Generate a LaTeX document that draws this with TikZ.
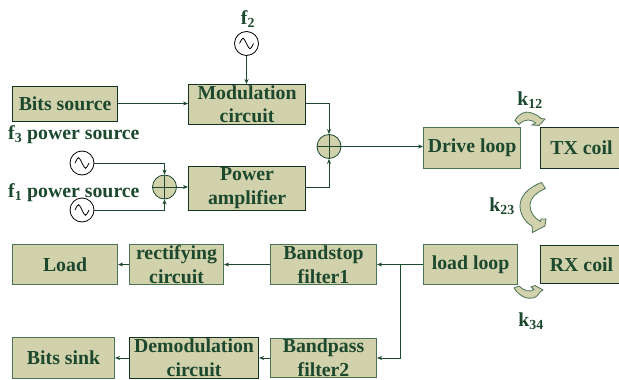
\documentclass[tikz,border=0pt]{standalone}
\usepackage{fontspec}
\setmainfont{Liberation Serif}
\usetikzlibrary{arrows.meta}
\definecolor{boxfill}{RGB}{209,209,171}
\definecolor{ink}{RGB}{28,72,46}
\definecolor{edge}{RGB}{75,115,85}
\tikzset{
  x=1pt,y=-1pt,
  blk/.style={draw=edge,line width=1.1pt,fill=boxfill,minimum width=0pt,minimum height=0pt,inner sep=0pt,text=ink,font=\fontsize{19.8}{24}\selectfont\bfseries,align=center,anchor=north west},
  darkblk/.style={blk,draw=ink!70!black},
  lab/.style={text=ink,font=\fontsize{19.8}{22}\selectfont\bfseries,inner sep=0pt},
  src/.style={circle,draw=black,fill=white,line width=.8pt,minimum size=24pt,inner sep=0pt},
  summer/.style={circle,draw=ink,fill=boxfill,line width=.8pt,minimum size=24pt,inner sep=0pt},
  conn/.style={draw=ink,line width=.8pt,-{Stealth[length=5pt,width=4pt]}},
  coupling/.style={draw=edge,line width=.8pt,fill=boxfill}
}
\newcommand{\boxat}[6][blk]{\node[#1,minimum width=#4pt,minimum height=#5pt] (#2) at (#3) {#6};}
\newcommand{\sine}[1]{\draw[line width=.8pt,black] ([xshift=-7pt]#1.center) .. controls +(3.5,-7) and +(-3.5,-7) .. (#1.center) .. controls +(3.5,7) and +(-3.5,7) .. ([xshift=7pt]#1.center);}
\newcommand{\cross}[1]{\draw[ink,line width=.8pt] (#1.north) -- (#1.south) (#1.west) -- (#1.east);}
\begin{document}
\begin{tikzpicture}
\useasboundingbox (0,0) rectangle (619,380);
\boxat[darkblk]{bits}{12,86}{105}{35}{Bits source}
\boxat[darkblk]{mod}{188,84}{117}{40}{Modulation\\[-1pt]circuit}
\boxat[darkblk]{amp}{188,166}{117}{44}{\raisebox{-2pt}{Power}\\\raisebox{-2pt}{amplifier}}
\boxat{drive}{423,126.5}{97}{41}{Drive loop}
\boxat[darkblk]{tx}{540,126.5}{82}{41}{TX coil}
\boxat{loadl}{423,244}{94}{40}{load loop}
\boxat[darkblk]{rx}{540,245}{82}{38}{RX coil}
\boxat{stop}{270,244}{106}{40}{Bandstop\\filter1}
\boxat{rect}{129,244}{94}{40}{rectifying\\circuit}
\boxat{load}{12,244}{105}{40}{Load}
\boxat{pass}{270,338}{106}{39}{Bandpass\\filter2}
\boxat[darkblk]{demod}{129,337}{129}{41}{Demodulation\\circuit}
\boxat{sink}{12,337}{102}{41}{Bits sink}
\node[src] (f2s) at (246.5,43.5) {};
\node[src] (s3) at (82,163) {};
\node[src] (s1) at (82,210) {};
\node[summer] (sum1) at (164.5,187) {};
\node[summer] (sum2) at (329,146.5) {};
\sine{f2s}\sine{s3}\sine{s1}
\cross{sum1}\cross{sum2}
\coordinate (j1) at (400,264.5);
\draw[conn] (f2s) -- (f2s |- mod.north);
\draw[conn] (bits.east |- 0,103.5) -- (mod.west |- 0,103.5);
\draw[conn] (s3.east) -| (sum1.north);
\draw[conn] (s1.east) -| (sum1.south);
\draw[conn] (sum1.east) -- (sum1.east -| amp.west);
\draw[conn] (mod.east |- 0,103.5) -| (sum2.north);
\draw[conn] (amp.east |- 0,187) -| (sum2.south);
\draw[conn] (sum2.east) -- (sum2.east -| drive.west);
\draw[conn] (loadl.west |- j1) -- (j1 -| stop.east);
\draw[conn] (j1) |- (pass.east |- 0,358);
\draw[conn] (stop.west |- j1) -- (j1 -| rect.east);
\draw[conn] (rect.west |- j1) -- (j1 -| load.east);
\draw[conn] (pass.west |- 0,358) -- (demod.east |- 0,358);
\draw[conn] (demod.west |- 0,358) -- (sink.east |- 0,358);
\path[coupling] (515,120.5) .. controls (519,113) and (526,111) .. (530,112.5) .. controls (535,114) and (539,116) .. (541,118.5) -- (545,119) -- (539,125.5) -- (532,125) -- (535.5,123) .. controls (532,119.5) and (525,118) .. (519,124.5) -- cycle;
\path[coupling] (541.5,182.5) .. controls (527,188) and (520,197) .. (520,206) .. controls (520,215) and (526,223) .. (532,226) -- (532.5,232.5) -- (545,226) -- (546,219) -- (541,219) -- (540.5,221.5) .. controls (534,218) and (530,212) .. (530,205.5) .. controls (530,198) and (537,192) .. (545.5,188.5) -- cycle;
\path[coupling] (514,288) .. controls (519,296) and (527,299.5) .. (533,298) .. controls (537,297) and (539,294) .. (540,292) -- (543,290) -- (535,285.5) -- (531,287) -- (534,289.5) .. controls (530,292.5) and (524,291) .. (519,286) -- cycle;
\node[lab] (f2) at (248,19) {f\textsubscript{2}};
\node[lab,anchor=west] (f3) at (8,135) {f\textsubscript{3} power source};
\node[lab,anchor=west] (f1) at (8,193) {f\textsubscript{1} power source};
\node[lab] (k12) at (530,100) {k\textsubscript{12}};
\node[lab] (k23) at (502,206) {k\textsubscript{23}};
\node[lab] (k34) at (531,321) {k\textsubscript{34}};
\end{tikzpicture}
\end{document}
